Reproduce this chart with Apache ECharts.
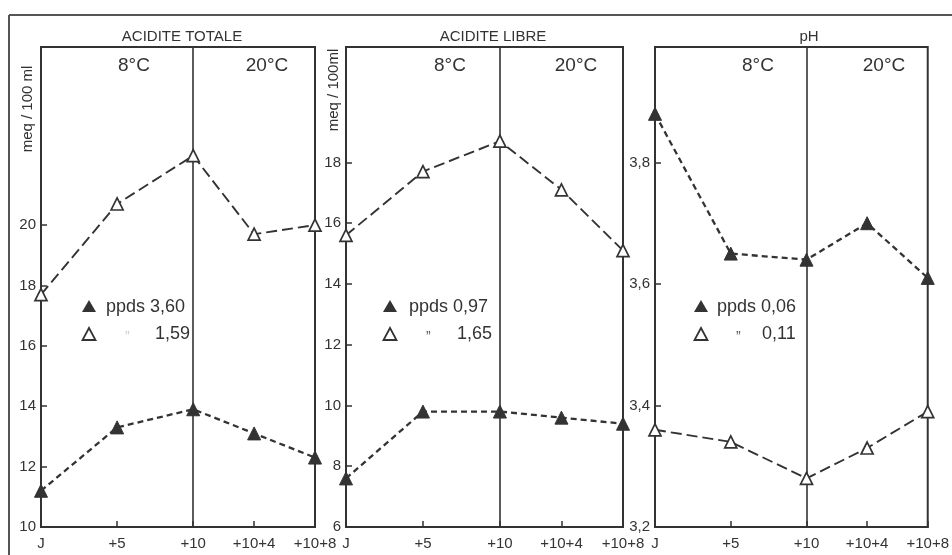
<!DOCTYPE html>
<html><head><meta charset="utf-8">
<script src="https://cdn.jsdelivr.net/npm/echarts@6/dist/echarts.min.js"></script>
<style>html,body{margin:0;padding:0;background:#fff}#c{width:952px;height:555px}</style>
</head><body><div id="c"></div>
<script>
const xDays = [0, 5, 10, 14, 18];
const xLabels = ['J', '+5', '+10', '+10+4', '+10+8'];
const panelTitles = ['ACIDITE TOTALE', 'ACIDITE LIBRE', 'pH'];
const totalTicks = [10, 12, 14, 16, 18, 20];
const libreTicks = [6, 8, 10, 12, 14, 16, 18];
const phTicks = [3.2, 3.4, 3.6, 3.8];
const totalOpen = [17.7, 20.7, 22.3, 19.7, 20.0];
const totalFilled = [11.2, 13.3, 13.9, 13.1, 12.3];
const libreOpen = [15.6, 17.7, 18.7, 17.1, 15.1];
const libreFilled = [7.6, 9.8, 9.8, 9.6, 9.4];
const phFilled = [3.88, 3.65, 3.64, 3.70, 3.61];
const phOpen = [3.36, 3.34, 3.28, 3.33, 3.39];
const legendFilled = ['ppds 3,60', 'ppds 0,97', 'ppds 0,06'];
const legendOpen = ['1,59', '1,65', '0,11'];

const INK = '#333';
const FONT = '"Liberation Sans", Arial, sans-serif';
const chart = echarts.init(document.getElementById('c'), null, {renderer: 'canvas'});

const grids = [
  {left: 41, right: 637, top: 47, bottom: 28},
  {left: 346, right: 329, top: 47, bottom: 28},
  {left: 655, right: 20, top: 47, bottom: 28}
];
const yDefs = [
  {min: 10, max: 25.9, ticks: totalTicks, comma: false},
  {min: 6, max: 21.8, ticks: libreTicks, comma: false},
  {min: 3.2, max: 3.99, ticks: phTicks, comma: true}
];
const seriesData = [[totalOpen, totalFilled], [libreOpen, libreFilled], [phOpen, phFilled]];

const xAxis = grids.map((g, i) => ({
  type: 'value', gridIndex: i, min: 0, max: 18,
  axisLine: {show: true, lineStyle: {color: INK, width: 2}},
  splitLine: {show: false},
  axisTick: {show: true, inside: true, length: 6, customValues: xDays, lineStyle: {color: INK, width: 1.5}},
  axisLabel: {customValues: xDays, color: INK, fontFamily: FONT, fontSize: 15, margin: 9,
    formatter: v => xLabels[xDays.indexOf(v)] || ''}
}));
const yAxis = yDefs.map((d, i) => ({
  type: 'value', gridIndex: i, min: d.min, max: d.max,
  axisLine: {show: true, lineStyle: {color: INK, width: 2}},
  splitLine: {show: false},
  axisTick: {show: true, inside: true, length: 6, customValues: d.ticks, lineStyle: {color: INK, width: 1.5}},
  axisLabel: {customValues: d.ticks, color: INK, fontFamily: FONT, fontSize: 15, margin: 5,
    formatter: v => d.comma ? v.toFixed(1).replace('.', ',') : String(Math.round(v))}
}));

const series = [];
seriesData.forEach((pair, i) => {
  series.push({
    type: 'line', xAxisIndex: i, yAxisIndex: i,
    data: xDays.map((x, k) => [x, pair[0][k]]),
    symbol: 'triangle', symbolSize: 12,
    itemStyle: {color: '#fff', borderColor: INK, borderWidth: 1.7},
    lineStyle: {color: INK, width: 1.9, type: [11, 5]},
    z: 3,
    markLine: {silent: true, symbol: 'none', label: {show: false},
      lineStyle: {color: INK, width: 1.6, type: 'solid'},
      data: [{xAxis: 10}], z: 1}
  });
  series.push({
    type: 'line', xAxisIndex: i, yAxisIndex: i,
    data: xDays.map((x, k) => [x, pair[1][k]]),
    symbol: 'triangle', symbolSize: 13,
    itemStyle: {color: INK, borderColor: INK, borderWidth: 1},
    lineStyle: {color: INK, width: 2.3, type: [6, 4]},
    z: 3
  });
});

const graphic = [
  {type: 'line', shape: {x1: 9, y1: 15, x2: 952, y2: 15}, style: {stroke: '#555', lineWidth: 2}, silent: true},
  {type: 'line', shape: {x1: 9, y1: 15, x2: 9, y2: 555}, style: {stroke: '#555', lineWidth: 2}, silent: true}
];
const tempPos = [[134, 267], [450, 576], [758, 884]];
tempPos.forEach(p => {
  graphic.push({type: 'text', x: p[0], y: 66, style: {text: '8°C', font: '19px ' + FONT, fill: INK, align: 'center', verticalAlign: 'middle'}});
  graphic.push({type: 'text', x: p[1], y: 66, style: {text: '20°C', font: '19px ' + FONT, fill: INK, align: 'center', verticalAlign: 'middle'}});
});
const legPos = [[89, 106, 125, 155], [390, 409, 426, 457], [701, 717, 736, 762]];
legPos.forEach((p, i) => {
  graphic.push({type: 'polygon', shape: {points: [[p[0], 300], [p[0] - 7, 312], [p[0] + 7, 312]]}, style: {fill: INK}});
  graphic.push({type: 'polygon', shape: {points: [[p[0], 328], [p[0] - 6.5, 340], [p[0] + 6.5, 340]]}, style: {fill: '#fff', stroke: INK, lineWidth: 1.8}});
  graphic.push({type: 'text', x: p[1], y: 307, style: {text: legendFilled[i], font: '18px ' + FONT, fill: INK, verticalAlign: 'middle'}});
  graphic.push({type: 'text', x: p[2], y: 337, style: {text: '\u201D', font: '14px ' + FONT, fill: i === 0 ? '#ccc' : '#555', verticalAlign: 'middle'}});
  graphic.push({type: 'text', x: p[3], y: 334, style: {text: legendOpen[i], font: '18px ' + FONT, fill: INK, verticalAlign: 'middle'}});
});
graphic.push({type: 'text', x: 28, y: 109, rotation: Math.PI / 2, style: {text: 'meq / 100 ml', font: '15px ' + FONT, fill: INK, align: 'center', verticalAlign: 'middle'}});
graphic.push({type: 'text', x: 334, y: 90, rotation: Math.PI / 2, style: {text: 'meq / 100ml', font: '15px ' + FONT, fill: INK, align: 'center', verticalAlign: 'middle'}});

const titleX = [177, 488, 804];
const title = panelTitles.map((t, i) => ({
  text: t, left: titleX[i], top: 24, textAlign: 'center',
  textStyle: {fontFamily: FONT, fontSize: 15, fontWeight: 'normal', color: INK}
}));

chart.setOption({
  animation: false,
  backgroundColor: '#fff',
  title: title,
  grid: grids.map(g => Object.assign({show: true, borderColor: INK, borderWidth: 2, backgroundColor: 'transparent'}, g)),
  xAxis: xAxis, yAxis: yAxis, series: series, graphic: graphic
});
</script></body></html>
